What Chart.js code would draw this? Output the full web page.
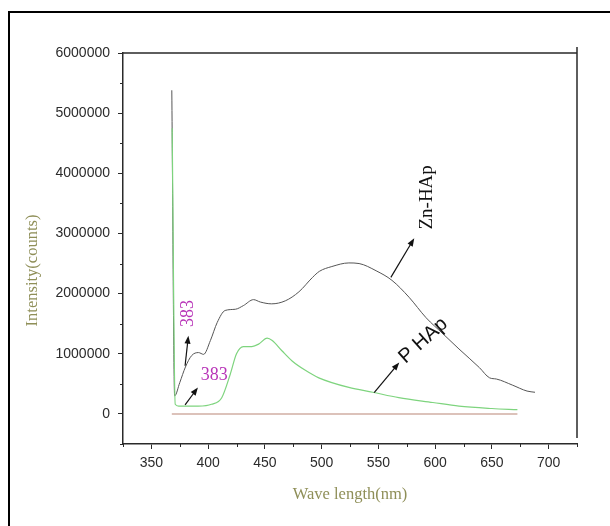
<!DOCTYPE html>
<html>
<head>
<meta charset="utf-8">
<script src="https://cdn.jsdelivr.net/npm/chart.js@4"></script>
<style>
  html, body { margin: 0; padding: 0; background: #fff; }
  #wrap { position: relative; width: 610px; height: 526px; }
  #frame { position: absolute; left: 8px; top: 11px; right: 0; bottom: 0;
           border-left: 2px solid #000; border-top: 2px solid #000; pointer-events: none; }
</style>
</head>
<body>
<div id="wrap">
  <canvas id="plChart" width="610" height="526"></canvas>
  <div id="frame"></div>
</div>
<script>
// Zn-HAp emission spectrum (wavelength nm / intensity counts)
const znWave = [368, 370.5, 375, 380, 385.5, 391.5, 396, 402, 408, 415, 424, 431, 440, 446, 456, 468, 480, 492, 498, 509, 524, 533, 548, 562, 577, 592, 607, 621, 639, 648, 654, 668, 681, 688];
const znCounts = [5380000, 300000, 520000, 780000, 970000, 1020000, 990000, 1220000, 1520000, 1720000, 1740000, 1800000, 1900000, 1860000, 1830000, 1880000, 2030000, 2270000, 2370000, 2450000, 2510000, 2500000, 2380000, 2220000, 1940000, 1600000, 1330000, 1080000, 770000, 600000, 580000, 480000, 380000, 360000];

// P HAp emission spectrum
const pWave = [368.3, 371, 374, 391.5, 403, 412, 419.5, 425, 431, 438.5, 444.5, 452, 456.5, 465, 474, 486, 497.5, 524, 545, 568, 598, 621, 650, 672.5];
const pCounts = [4750000, 160000, 130000, 130000, 160000, 270000, 660000, 1000000, 1120000, 1120000, 1160000, 1260000, 1220000, 1050000, 880000, 720000, 600000, 440000, 360000, 270000, 190000, 130000, 90000, 70000];

// flat reference trace
const baseWave = [368, 672.5];
const baseCounts = [0, 0];

const xTicks = [350, 400, 450, 500, 550, 600, 650, 700];
const xMinor = [325, 375, 425, 475, 525, 575, 625, 675, 725];
const yTicks = [0, 1000000, 2000000, 3000000, 4000000, 5000000, 6000000];
const yMinor = [-500000, 500000, 1500000, 2500000, 3500000, 4500000, 5500000];

// labels + arrows, placed in data units
const notes = [
  { text: "383", x: 382.7, y: 1670000, rot: -90, font: "18px 'Liberation Serif', serif", color: "#b835b8" },
  { text: "383", x: 405.3, y: 640000, rot: 0, font: "18px 'Liberation Serif', serif", color: "#b835b8" },
  { text: "Zn-HAp", x: 593, y: 3600000, rot: -90, font: "19px 'Liberation Serif', serif", color: "#111" },
  { text: "P HAp", x: 589.6, y: 1220000, rot: -42, font: "20px 'Liberation Sans', Arial, sans-serif", color: "#111" }
];
const arrows = [
  { from: [379.7, 800000], to: [382.6, 1300000] },
  { from: [379.7, 150000], to: [391, 440000] },
  { from: [561, 2270000], to: [581.6, 2920000] },
  { from: [546.3, 355000], to: [568.4, 855000] }
];

const toPoints = (xs, ys) => xs.map((x, i) => ({ x: x, y: ys[i] }));

const axisColor = "#2a2a2a";
const tickFont = { family: "'Liberation Sans', Arial, sans-serif", size: 14 };

const extrasPlugin = {
  id: "extras",
  afterDraw(chart) {
    const ctx = chart.ctx;
    const xs = chart.scales.x, ys = chart.scales.y;
    const area = chart.chartArea;
    ctx.save();

    // top + right frame
    ctx.strokeStyle = axisColor;
    ctx.lineWidth = 1.5;
    ctx.beginPath();
    ctx.moveTo(area.left, area.top);
    ctx.lineTo(area.right, area.top);
    ctx.moveTo(area.right, area.top - 6);
    ctx.lineTo(area.right, area.bottom - 6);
    ctx.stroke();

    // minor ticks
    ctx.lineWidth = 1;
    ctx.beginPath();
    xMinor.forEach(v => {
      const px = Math.round(xs.getPixelForValue(v)) + 0.5;
      ctx.moveTo(px, area.bottom);
      ctx.lineTo(px, area.bottom + 3);
    });
    yMinor.forEach(v => {
      const py = Math.round(ys.getPixelForValue(v)) + 0.5;
      ctx.moveTo(area.left, py);
      ctx.lineTo(area.left - 3, py);
    });
    ctx.stroke();

    // y axis title
    ctx.save();
    ctx.translate(33, (area.top + area.bottom) / 2 + 22);
    ctx.rotate(-Math.PI / 2);
    ctx.fillStyle = "#8f8f58";
    ctx.font = "16.5px 'Liberation Serif', serif";
    ctx.textAlign = "center";
    ctx.textBaseline = "middle";
    ctx.fillText("Intensity(counts)", 0, 0);
    ctx.restore();

    // arrows
    arrows.forEach(a => {
      const x1 = xs.getPixelForValue(a.from[0]), y1 = ys.getPixelForValue(a.from[1]);
      const x2 = xs.getPixelForValue(a.to[0]), y2 = ys.getPixelForValue(a.to[1]);
      const ang = Math.atan2(y2 - y1, x2 - x1);
      ctx.strokeStyle = "#111";
      ctx.fillStyle = "#111";
      ctx.lineWidth = 1.2;
      ctx.beginPath();
      ctx.moveTo(x1, y1);
      ctx.lineTo(x2 - 5 * Math.cos(ang), y2 - 5 * Math.sin(ang));
      ctx.stroke();
      ctx.beginPath();
      ctx.moveTo(x2, y2);
      ctx.lineTo(x2 - 8 * Math.cos(ang) + 3 * Math.sin(ang), y2 - 8 * Math.sin(ang) - 3 * Math.cos(ang));
      ctx.lineTo(x2 - 8 * Math.cos(ang) - 3 * Math.sin(ang), y2 - 8 * Math.sin(ang) + 3 * Math.cos(ang));
      ctx.closePath();
      ctx.fill();
    });

    // text labels
    notes.forEach(n => {
      ctx.save();
      ctx.translate(xs.getPixelForValue(n.x), ys.getPixelForValue(n.y));
      ctx.rotate(n.rot * Math.PI / 180);
      ctx.font = n.font;
      ctx.fillStyle = n.color;
      ctx.textAlign = "center";
      ctx.textBaseline = "middle";
      ctx.fillText(n.text, 0, 0);
      ctx.restore();
    });

    ctx.restore();
  }
};

new Chart(document.getElementById("plChart"), {
  type: "line",
  data: {
    datasets: [
      {
        label: "P HAp",
        data: toPoints(pWave, pCounts),
        borderColor: "#7ed47e",
        borderWidth: 1.2,
        order: 0
      },
      {
        label: "Zn-HAp",
        data: toPoints(znWave, znCounts),
        borderColor: "#555555",
        borderWidth: 1,
        order: 1
      },
      {
        label: "base",
        data: toPoints(baseWave, baseCounts),
        borderColor: "#dcc2ba",
        borderWidth: 2,
        order: 2
      }
    ]
  },
  options: {
    responsive: false,
    animation: false,
    cubicInterpolationMode: "monotone",
    elements: { point: { radius: 0 }, line: { cubicInterpolationMode: "monotone" } },
    layout: { padding: { left: 0, right: 33, top: 53, bottom: 0 } },
    plugins: {
      legend: { display: false },
      tooltip: { enabled: false }
    },
    scales: {
      x: {
        type: "linear",
        min: 325,
        max: 725,
        afterBuildTicks: s => { s.ticks = xTicks.map(v => ({ value: v })); },
        afterFit: s => { s.height = 82; },
        ticks: { font: tickFont, color: "#2b2b2b", padding: 6, maxRotation: 0, callback: v => String(v) },
        grid: { drawOnChartArea: false, drawTicks: true, tickLength: 5, tickColor: axisColor },
        border: { display: true, color: axisColor, width: 1.5 },
        title: {
          display: true,
          text: "Wave length(nm)",
          color: "#8f8f58",
          font: { family: "'Liberation Serif', serif", size: 16.5 },
          padding: { top: 0, bottom: 21 }
        }
      },
      y: {
        min: -500000,
        max: 6000000,
        afterBuildTicks: s => { s.ticks = yTicks.map(v => ({ value: v })); },
        afterFit: s => { s.width = 123; },
        ticks: { font: tickFont, color: "#2b2b2b", padding: 8, callback: v => String(v) },
        grid: { drawOnChartArea: false, drawTicks: true, tickLength: 5, tickColor: axisColor },
        border: { display: true, color: axisColor, width: 1.5 }
      }
    }
  },
  plugins: [extrasPlugin]
});
</script>
</body>
</html>
